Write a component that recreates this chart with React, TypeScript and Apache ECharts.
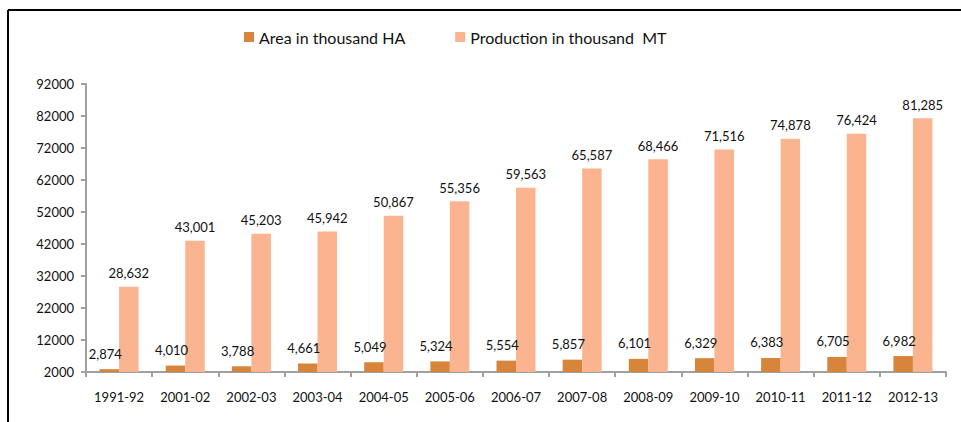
import React, { useEffect, useRef } from "react";
import * as echarts from "echarts";

const categories = ["1991-92", "2001-02", "2002-03", "2003-04", "2004-05", "2005-06", "2006-07", "2007-08", "2008-09", "2009-10", "2010-11", "2011-12", "2012-13"];
const areaValues = [2874, 4010, 3788, 4661, 5049, 5324, 5554, 5857, 6101, 6329, 6383, 6705, 6982];
const productionValues = [28632, 43001, 45203, 45942, 50867, 55356, 59563, 65587, 68466, 71516, 74878, 76424, 81285];
const seriesNames = ["Area in thousand HA", "Production in thousand  MT"];

const FONT = "Lato, 'Open Sans', sans-serif";
const fmt = (v: number) => v.toLocaleString("en-US");

export default function App() {
  const ref = useRef<HTMLDivElement>(null);
  useEffect(() => {
    if (!ref.current) return;
    const chart = echarts.init(ref.current, undefined, { renderer: "svg" });
    chart.setOption({
      animation: false,
      backgroundColor: "#ffffff",
      textStyle: { fontFamily: FONT },
      graphic: [
        { type: "line", shape: { x1: 8, y1: 10, x2: 961, y2: 10 }, style: { stroke: "#000", lineWidth: 2 } },
        { type: "line", shape: { x1: 8, y1: 10, x2: 8, y2: 422 }, style: { stroke: "#000", lineWidth: 2 } },
      ],
      legend: {
        top: 24,
        left: 239,
        itemWidth: 10,
        itemHeight: 10,
        itemGap: 50,
        icon: "rect",
        textStyle: { fontSize: 16, color: "#111", fontFamily: FONT },
        data: seriesNames,
      },
      grid: { left: 86, right: 15, top: 84, bottom: 50 },
      xAxis: {
        type: "category",
        data: categories,
        axisLine: { lineStyle: { color: "#A0A0A0", width: 2 } },
        axisTick: { show: true, length: 5, lineStyle: { color: "#A0A0A0", width: 2 } },
        axisLabel: { fontSize: 13, color: "#111", margin: 18, fontFamily: FONT },
      },
      yAxis: {
        type: "value",
        min: 2000,
        max: 92000,
        interval: 10000,
        splitLine: { show: false },
        axisLine: { show: true, lineStyle: { color: "#A0A0A0", width: 2 } },
        axisTick: { show: true, length: 5, lineStyle: { color: "#A0A0A0", width: 2 } },
        axisLabel: { fontSize: 13, color: "#111", margin: 12, fontFamily: FONT, formatter: (v: number) => String(v) },
      },
      series: [
        {
          name: seriesNames[0],
          type: "bar",
          data: areaValues,
          barWidth: 19.5,
          barGap: "0%",
          itemStyle: { color: "#D8853C" },
          label: {
            show: true,
            position: "top",
            distance: 7,
            offset: [-4, -2],
            fontSize: 13,
            color: "#111",
            fontFamily: FONT,
            formatter: (p: any) => fmt(p.value),
          },
        },
        {
          name: seriesNames[1],
          type: "bar",
          data: productionValues,
          barWidth: 19.5,
          barGap: "0%",
          itemStyle: { color: "#FAB48F" },
          label: {
            show: true,
            position: "top",
            distance: 7,
            fontSize: 13,
            color: "#111",
            fontFamily: FONT,
            formatter: (p: any) => fmt(p.value),
          },
        },
      ],
    });
    return () => chart.dispose();
  }, []);
  return <div ref={ref} style={{ position: "fixed", left: 0, top: 0, width: 961, height: 422 }} />;
}
